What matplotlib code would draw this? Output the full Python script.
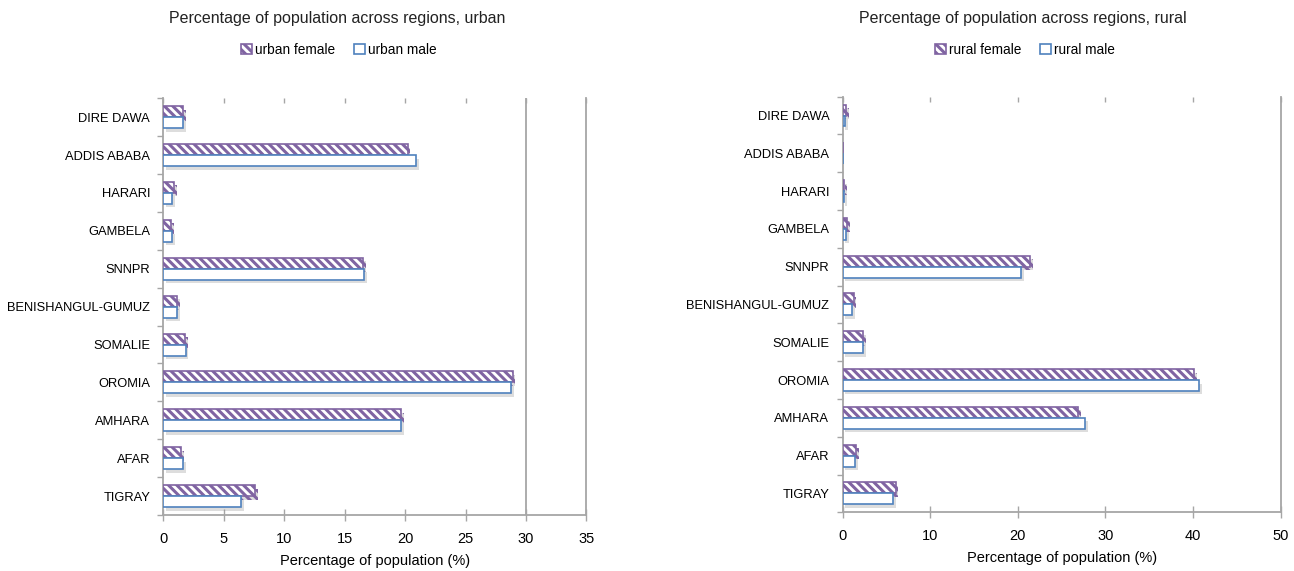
import numpy as np
import matplotlib
matplotlib.use("Agg")
import matplotlib.pyplot as plt
from matplotlib.patches import Patch
from matplotlib import patheffects as pe

plt.rcParams['font.family'] = ['Liberation Sans', 'DejaVu Sans']
plt.rcParams['hatch.linewidth'] = 2.2

regions = ["TIGRAY", "AFAR", "AMHARA", "OROMIA", "SOMALIE", "BENISHANGUL-GUMUZ",
           "SNNPR", "GAMBELA", "HARARI", "ADDIS ABABA", "DIRE DAWA"]

urban_female = [7.6, 1.5, 19.7, 28.9, 1.8, 1.15, 16.5, 0.65, 0.9, 20.2, 1.65]
urban_male = [6.45, 1.65, 19.7, 28.8, 1.85, 1.15, 16.6, 0.75, 0.75, 20.9, 1.65]

rural_female = [6.05, 1.55, 26.9, 40.1, 2.3, 1.25, 21.4, 0.5, 0.2, 0.0, 0.38]
rural_male = [5.8, 1.45, 27.7, 40.7, 2.35, 1.05, 20.4, 0.42, 0.2, 0.0, 0.27]

purple = "#8064A2"
blue = "#4F81BD"
grey = "#A6A6A6"
hatch = "\\\\\\\\"

fig = plt.figure(figsize=(12.94, 5.71), dpi=100)

shadow = [pe.SimplePatchShadow(offset=(2, -2.5), shadow_rgbFace="#909090", alpha=0.3),
          pe.Normal()]


def draw_panel(ax, female, male, xmax, step, extra_line=None):
    y = np.arange(len(regions))
    h = 0.29
    bf = ax.barh(y + h / 2, female, height=h, color="white", edgecolor=purple,
                 hatch=hatch, linewidth=1.2, zorder=3)
    bm = ax.barh(y - h / 2, male, height=h, color="white", edgecolor=blue,
                 linewidth=1.2, zorder=3)
    for b in list(bf) + list(bm):
        b.set_path_effects(shadow)
    ticks = np.arange(0, xmax + 0.1, step)
    ax.set_xlim(0, xmax)
    ax.set_ylim(-0.5, len(regions) - 0.5)
    ax.set_xticks(ticks)
    ax.set_yticks(y)
    ax.set_yticklabels(regions, fontsize=9.3)
    ax.set_yticks(np.arange(-0.5, len(regions), 1.0), minor=True)
    ax.tick_params(axis="y", which="major", length=0, pad=9.5)
    ax.tick_params(axis="y", which="minor", length=4, color=grey, width=1)
    ax.tick_params(axis="x", which="major", direction="inout", length=8, color=grey,
                   width=1, labelsize=10.5, pad=8)
    for s in ["left", "bottom", "right"]:
        ax.spines[s].set_color(grey)
        ax.spines[s].set_linewidth(1.3)
    ax.spines["top"].set_visible(False)

    # short inward ticks along the top edge
    top = ax.secondary_xaxis("top")
    top.set_xticks(ticks)
    top.tick_params(direction="in", length=3.5, color=grey, width=1, labeltop=False)
    top.spines["top"].set_visible(False)

    if extra_line is not None:
        ax.axvline(extra_line, color=grey, linewidth=1.3, zorder=1)
    ax.set_xlabel("Percentage of population (%)", fontsize=10.5, labelpad=6)


ax1 = fig.add_axes([0.1262, 0.098, 0.327, 0.730])
draw_panel(ax1, urban_female, urban_male, 35, 5, extra_line=30)

ax2 = fig.add_axes([0.6512, 0.1028, 0.3385, 0.728])
draw_panel(ax2, rural_female, rural_male, 50, 10)

fig.text(337 / 1294, 1 - 18 / 571, "Percentage of population across regions, urban",
         ha="center", va="center", fontsize=11.5, color="#222222")
fig.text(1023 / 1294, 1 - 18 / 571, "Percentage of population across regions, rural",
         ha="center", va="center", fontsize=11.5, color="#222222")


def legend(x, labels):
    handles = [Patch(facecolor="white", edgecolor=purple, hatch=hatch, linewidth=1.2),
               Patch(facecolor="white", edgecolor=blue, linewidth=1.2)]
    fig.legend(handles, labels, loc="center", bbox_to_anchor=(x, 1 - 50 / 571),
               ncol=2, frameon=False, fontsize=9.8, handlelength=0.8,
               handleheight=0.8, handletextpad=0.2, columnspacing=1.4)


legend(339 / 1294, ["urban female", "urban male"])
legend(1025 / 1294, ["rural female", "rural male"])

fig.savefig("out.png", dpi=100, facecolor="white")
